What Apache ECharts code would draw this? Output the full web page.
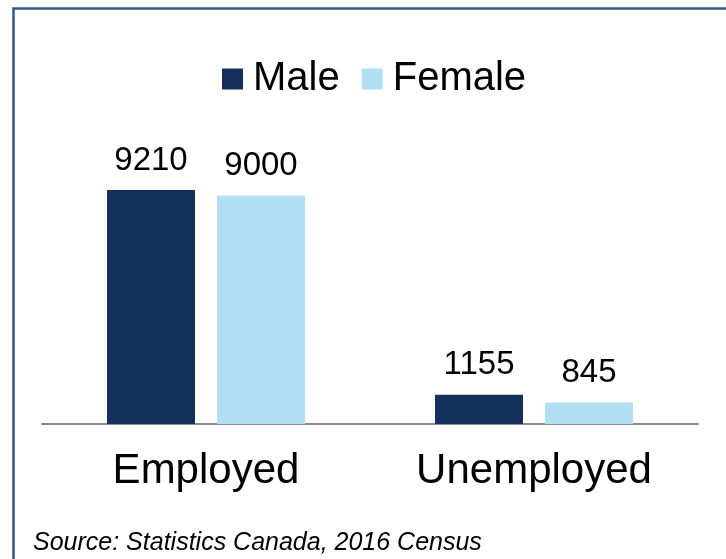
<!DOCTYPE html>
<html>
<head>
<meta charset="utf-8">
<script src="https://cdn.jsdelivr.net/npm/echarts@6/dist/echarts.min.js"></script>
<style>
  html, body { margin: 0; padding: 0; background: #fff; }
  #chart { width: 726px; height: 559px; }
</style>
</head>
<body>
<div id="chart"></div>
<script>
// chart data
const categories = ['Employed', 'Unemployed'];
const seriesNames = ['Male', 'Female'];
const maleValues = [9210, 1155];
const femaleValues = [9000, 845];
const sourceNote = 'Source: Statistics Canada, 2016 Census';

const FONT = '"Liberation Sans", Arial, sans-serif';

const chart = echarts.init(document.getElementById('chart'));

const labelStyle = {
  show: true,
  position: 'top',
  distance: 13,
  color: '#000',
  fontSize: 33,
  fontFamily: FONT
};

const option = {
  animation: false,
  backgroundColor: '#fff',
  legend: {
    data: seriesNames,
    left: 222,
    top: 59,
    padding: 0,
    icon: 'rect',
    itemWidth: 21,
    itemHeight: 21,
    itemGap: 22,
    textStyle: { fontSize: 40, fontFamily: FONT, color: '#000', padding: [0, 0, 0, 5] }
  },
  grid: {
    left: 42,
    right: 28,
    top: 170,
    bottom: 135,
    containLabel: false
  },
  xAxis: {
    type: 'category',
    data: categories,
    axisLine: { lineStyle: { color: '#8c8c8c', width: 2 } },
    axisTick: { show: false },
    axisLabel: { fontSize: 42, fontFamily: FONT, color: '#000', margin: 26 }
  },
  yAxis: {
    type: 'value',
    min: 0,
    max: 10000,
    show: false,
    splitLine: { show: false }
  },
  series: [
    {
      name: seriesNames[0],
      type: 'bar',
      data: maleValues,
      barWidth: 88,
      barGap: '25%',
      itemStyle: { color: '#15305a' },
      label: labelStyle
    },
    {
      name: seriesNames[1],
      type: 'bar',
      data: femaleValues,
      barWidth: 88,
      itemStyle: { color: '#b3def3' },
      label: labelStyle
    }
  ],
  graphic: [
    {
      type: 'rect',
      left: 11,
      top: 6,
      shape: { width: 800, height: 700 },
      style: { fill: 'none', stroke: '#30598b', lineWidth: 2.5 },
      silent: true
    },
    {
      type: 'text',
      left: 33,
      top: 531,
      style: {
        text: sourceNote,
        fontSize: 25,
        fontStyle: 'italic',
        fontFamily: FONT,
        fill: '#000'
      }
    }
  ]
};

chart.setOption(option);
</script>
</body>
</html>
